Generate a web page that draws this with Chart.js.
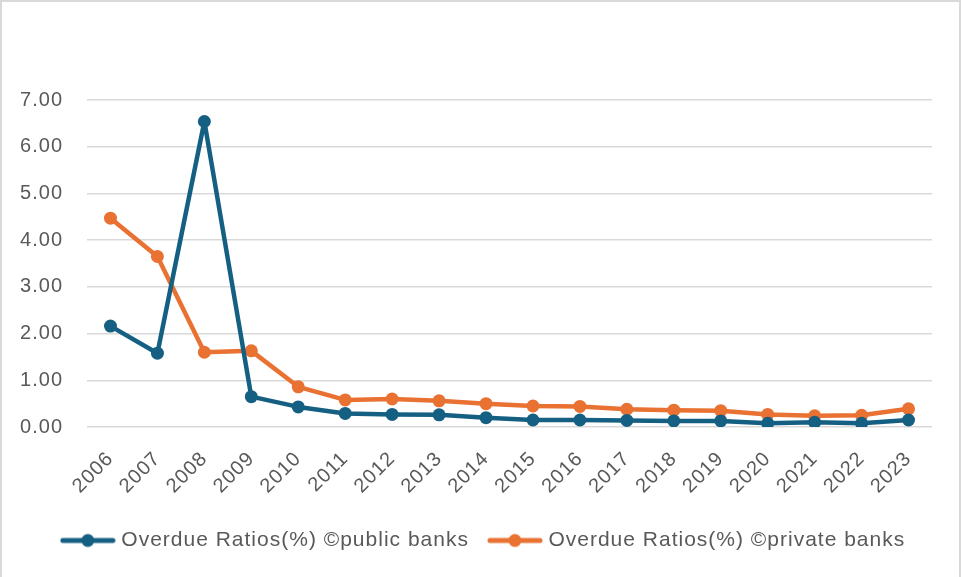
<!DOCTYPE html>
<html>
<head>
<meta charset="utf-8">
<script src="https://cdn.jsdelivr.net/npm/chart.js@4.4.1/dist/chart.umd.min.js"></script>
<style>
  html, body { margin: 0; padding: 0; background: #ffffff; }
  #wrap { position: relative; width: 961px; height: 577px; }
  canvas { display: block; }
</style>
</head>
<body>
<div id="wrap"><canvas id="chart" width="961" height="577"></canvas></div>
<script>
// Overdue ratios by year, public vs private banks (%)
const years = ['2006','2007','2008','2009','2010','2011','2012','2013','2014','2015','2016','2017','2018','2019','2020','2021','2022','2023'];
const publicBanks  = [2.16, 1.58, 6.54, 0.65, 0.43, 0.29, 0.27, 0.26, 0.20, 0.15, 0.15, 0.14, 0.13, 0.13, 0.08, 0.10, 0.08, 0.15];
const privateBanks = [4.47, 3.65, 1.60, 1.63, 0.86, 0.58, 0.60, 0.56, 0.50, 0.45, 0.44, 0.38, 0.36, 0.35, 0.27, 0.24, 0.25, 0.39];
const seriesNames = ['Overdue Ratios(%) \u00A9public banks', 'Overdue Ratios(%) \u00A9private banks'];
const yTicks = [0, 1, 2, 3, 4, 5, 6, 7];

const BLUE = '#156082';
const ORANGE = '#E97132';
const TEXT = '#595959';
const GRID = '#d9d9d9';
const FONT = "'Liberation Sans', Arial, sans-serif";

// Legend swatch: line segment with a round marker in the middle
function legendSwatch(color) {
  const c = document.createElement('canvas');
  c.width = 56; c.height = 16;
  const g = c.getContext('2d');
  g.strokeStyle = color;
  g.lineWidth = 5;
  g.lineCap = 'round';
  g.beginPath();
  g.moveTo(3, 8); g.lineTo(53, 8);
  g.stroke();
  g.fillStyle = color;
  g.beginPath();
  g.arc(28, 8, 6.5, 0, Math.PI * 2);
  g.fill();
  return c;
}

// White background, light frame, and slightly wider letter spacing for all text
const frame = {
  id: 'frame',
  beforeUpdate(chart) { chart.ctx.letterSpacing = '1px'; },
  beforeLayout(chart) { chart.ctx.letterSpacing = '1px'; },
  beforeDraw(chart) {
    const ctx = chart.ctx;
    ctx.letterSpacing = '1px';
    ctx.save();
    ctx.fillStyle = '#ffffff';
    ctx.fillRect(0, 0, chart.width, chart.height);
    ctx.strokeStyle = GRID;
    ctx.lineWidth = 2;
    ctx.strokeRect(1, 1, 959, 590);
    ctx.restore();
  }
};

// Centre the legend row on the whole canvas rather than on the padded box
const legendShift = {
  id: 'legendShift',
  afterLayout(chart) {
    const lg = chart.legend;
    if (lg) { lg.left += 19; lg.right += 19; }
  }
};

new Chart(document.getElementById('chart'), {
  type: 'line',
  data: {
    labels: years,
    datasets: [
      {
        label: seriesNames[0],
        data: publicBanks,
        borderColor: BLUE,
        backgroundColor: BLUE,
        borderWidth: 4.5,
        borderJoinStyle: 'round',
        borderCapStyle: 'round',
        pointRadius: 6.5,
        pointHoverRadius: 6.5,
        pointBackgroundColor: BLUE,
        pointBorderColor: BLUE,
        pointBorderWidth: 0,
        pointStyle: 'circle',
        tension: 0
      },
      {
        label: seriesNames[1],
        data: privateBanks,
        borderColor: ORANGE,
        backgroundColor: ORANGE,
        borderWidth: 4.5,
        borderJoinStyle: 'round',
        borderCapStyle: 'round',
        pointRadius: 6.5,
        pointHoverRadius: 6.5,
        pointBackgroundColor: ORANGE,
        pointBorderColor: ORANGE,
        pointBorderWidth: 0,
        pointStyle: 'circle',
        tension: 0
      }
    ]
  },
  options: {
    responsive: false,
    animation: false,
    layout: { padding: { top: 100, left: 0, right: 29, bottom: 16 } },
    plugins: {
      tooltip: { enabled: false },
      legend: {
        position: 'bottom',
        labels: {
          usePointStyle: true,
          pointStyleWidth: 46,
          padding: 23,
          color: TEXT,
          font: { family: FONT, size: 21 },
          generateLabels(chart) {
            return chart.data.datasets.map((ds, i) => ({
              text: ds.label,
              fillStyle: ds.borderColor,
              strokeStyle: ds.borderColor,
              lineWidth: 0,
              pointStyle: legendSwatch(ds.borderColor),
              fontColor: TEXT,
              hidden: false,
              datasetIndex: i
            }));
          }
        }
      }
    },
    scales: {
      x: {
        offset: true,
        grid: { display: false },
        border: { display: false },
        ticks: {
          color: TEXT,
          font: { family: FONT, size: 20 },
          minRotation: 45,
          maxRotation: 45,
          autoSkip: false,
          padding: 12
        },
        afterFit(scale) { scale.height = 80; }
      },
      y: {
        min: 0,
        max: 7,
        border: { display: false },
        grid: { color: GRID, lineWidth: 1.5, drawTicks: false },
        afterBuildTicks(scale) { scale.ticks = yTicks.map(v => ({ value: v })); },
        ticks: {
          color: TEXT,
          font: { family: FONT, size: 20 },
          padding: 24,
          callback: v => Number(v).toFixed(2)
        },
        afterFit(scale) { scale.width = 87; }
      }
    }
  },
  plugins: [frame, legendShift]
});
</script>
</body>
</html>
